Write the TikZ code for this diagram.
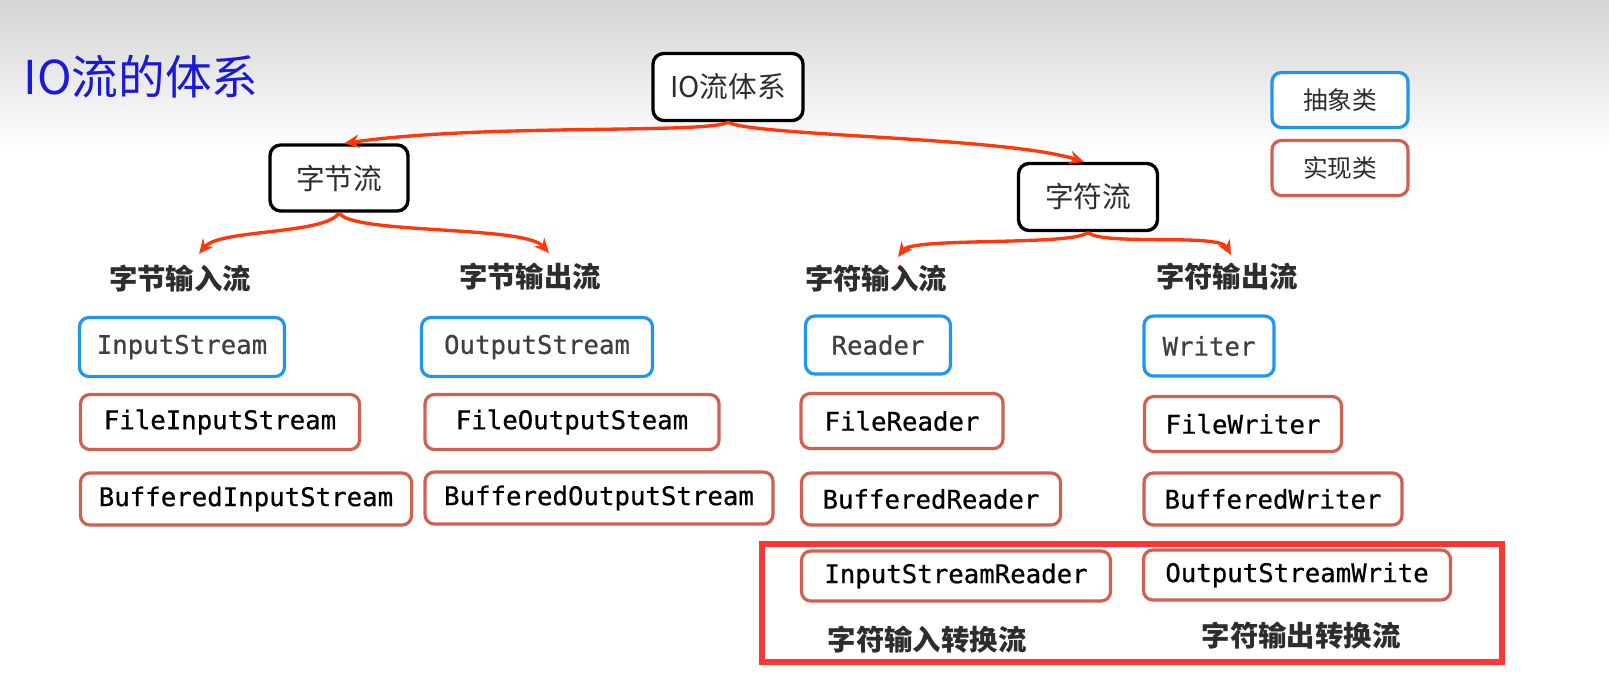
\documentclass[tikz,border=0pt]{standalone}
\usepackage{fontspec}
\usetikzlibrary{arrows.meta}
\setmainfont{Noto Sans CJK SC}
\newfontfamily\codefont{DejaVu Sans Mono}[FakeBold=0.6]
\newfontfamily\cjkfont{Noto Sans CJK SC}
\definecolor{absc}{RGB}{30,150,235}
\definecolor{implc}{RGB}{208,96,80}
\definecolor{arrc}{RGB}{255,55,10}
\definecolor{hlc}{RGB}{250,55,55}
\definecolor{txtc}{RGB}{45,45,45}
\definecolor{ttlc}{RGB}{25,25,215}
\begin{document}
\begin{tikzpicture}[x=0.75pt,y=-0.75pt,
  sz/.style 2 args={minimum width=#1*0.75pt,minimum height=#2*0.75pt},
  topbox/.style={draw=black, line width=2.5pt, rounded corners=8pt, inner sep=0pt, fill=white,
    font=\fontsize{21.5}{24}\selectfont, text=txtc},
  legendbox/.style={line width=2.4pt, rounded corners=7pt, inner sep=0pt, fill=white,
    font=\fontsize{18.5}{22}\selectfont, text=txtc},
  absbox/.style={draw=absc, line width=2.4pt, rounded corners=7pt, inner sep=0pt, fill=white,
    font=\codefont\fontsize{19.3}{22}\selectfont, text=black!75},
  implbox/.style={draw=implc, line width=2.4pt, rounded corners=7pt, inner sep=0pt, fill=white,
    font=\codefont\fontsize{19.3}{22}\selectfont, text=black},
  head/.style={font=\fontsize{21.3}{24}\selectfont\bfseries, text=txtc, inner sep=0pt},
  conn/.style={draw=arrc, line width=2.5pt, -{Stealth[length=11pt,width=10pt]}},
]
\useasboundingbox (0,0) rectangle (1609,693);
\shade[top color=black!17, bottom color=white] (0,0) rectangle (1609,150);

% title
\node[font=\cjkfont\fontsize{35}{40}\selectfont, text=ttlc, inner sep=0pt] (title) at (141,77) {IO流的体系};

% tree nodes
\node[topbox, sz={150}{67}] (io) at (728,87) {IO流体系};
\node[topbox, sz={138}{66}] (zj) at (339,178) {字节流};
\node[topbox, sz={139}{67}] (zf) at (1088,197) {字符流};

% legend
\node[legendbox, draw=absc, sz={136}{55}] (la) at (1340,100) {抽象类};
\node[legendbox, draw=implc, sz={136}{55}] (li) at (1340,168) {实现类};

% headers
\node[head] (h1) at (180,279) {字节输入流};
\node[head] (h2) at (530,277) {字节输出流};
\node[head] (h3) at (876,279) {字符输入流};
\node[head] (h4) at (1227,277) {字符输出流};

% row 1 abstract
\node[absbox, sz={205}{59}] (is) at (182,347) {InputStream};
\node[absbox, sz={231}{59}] (os) at (537,347) {OutputStream};
\node[absbox, sz={145}{58}] (rd) at (878,345) {Reader};
\node[absbox, sz={130}{60}] (wr) at (1209,346) {Writer};

% row 2
\node[implbox, sz={279}{55}] (fis) at (220,422) {FileInputStream};
\node[implbox, sz={294}{55}] (fos) at (572,422) {FileOutputSteam};
\node[implbox, sz={202}{55}] (fr) at (902,421) {FileReader};
\node[implbox, sz={197}{55}] (fw) at (1243,424) {FileWriter};

% row 3
\node[implbox, sz={331}{52}] (bis) at (246,499) {BufferedInputStream};
\node[implbox, sz={348}{52}] (bos) at (599,498) {BufferedOutputStream};
\node[implbox, sz={259}{52}] (br) at (931,499) {BufferedReader};
\node[implbox, sz={258}{52}] (bw) at (1273,499) {BufferedWriter};

% highlight frame
\node[draw=hlc, line width=4.5pt, sz={740}{118}, inner sep=0pt] (hl) at (1131.5,603) {};

% row 4
\node[implbox, sz={309}{50}] (isr) at (956,576) {InputStreamReader};
\node[implbox, sz={307}{50}] (osw) at (1297,575) {OutputStreamWrite};

\node[head] (c1) at (927,640) {字符输入转换流};
\node[head] (c2) at (1301,636) {字符输出转换流};

% arrow tips
\coordinate (t1) at (199,254);
\coordinate (t2) at (549,253);
\coordinate (t3) at (898,257);
\coordinate (t4) at (1231,255);

\draw[conn] (io.south) .. controls +(-20,12) and +(140,-20) .. ([xshift=4pt]zj.north);
\draw[conn] (io.south) .. controls +(25,14) and +(-80,-25) .. ([xshift=-3pt]zf.north);
\draw[conn] (zj.south) .. controls +(-12,22) and +(20,-25) .. (t1);
\draw[conn] (zj.south) .. controls +(12,22) and +(-25,-28) .. (t2);
\draw[conn] (zf.south) .. controls +(-12,14) and +(15,-20) .. (t3);
\draw[conn] (zf.south) .. controls +(12,14) and +(-12,-22) .. (t4);
\end{tikzpicture}
\end{document}
